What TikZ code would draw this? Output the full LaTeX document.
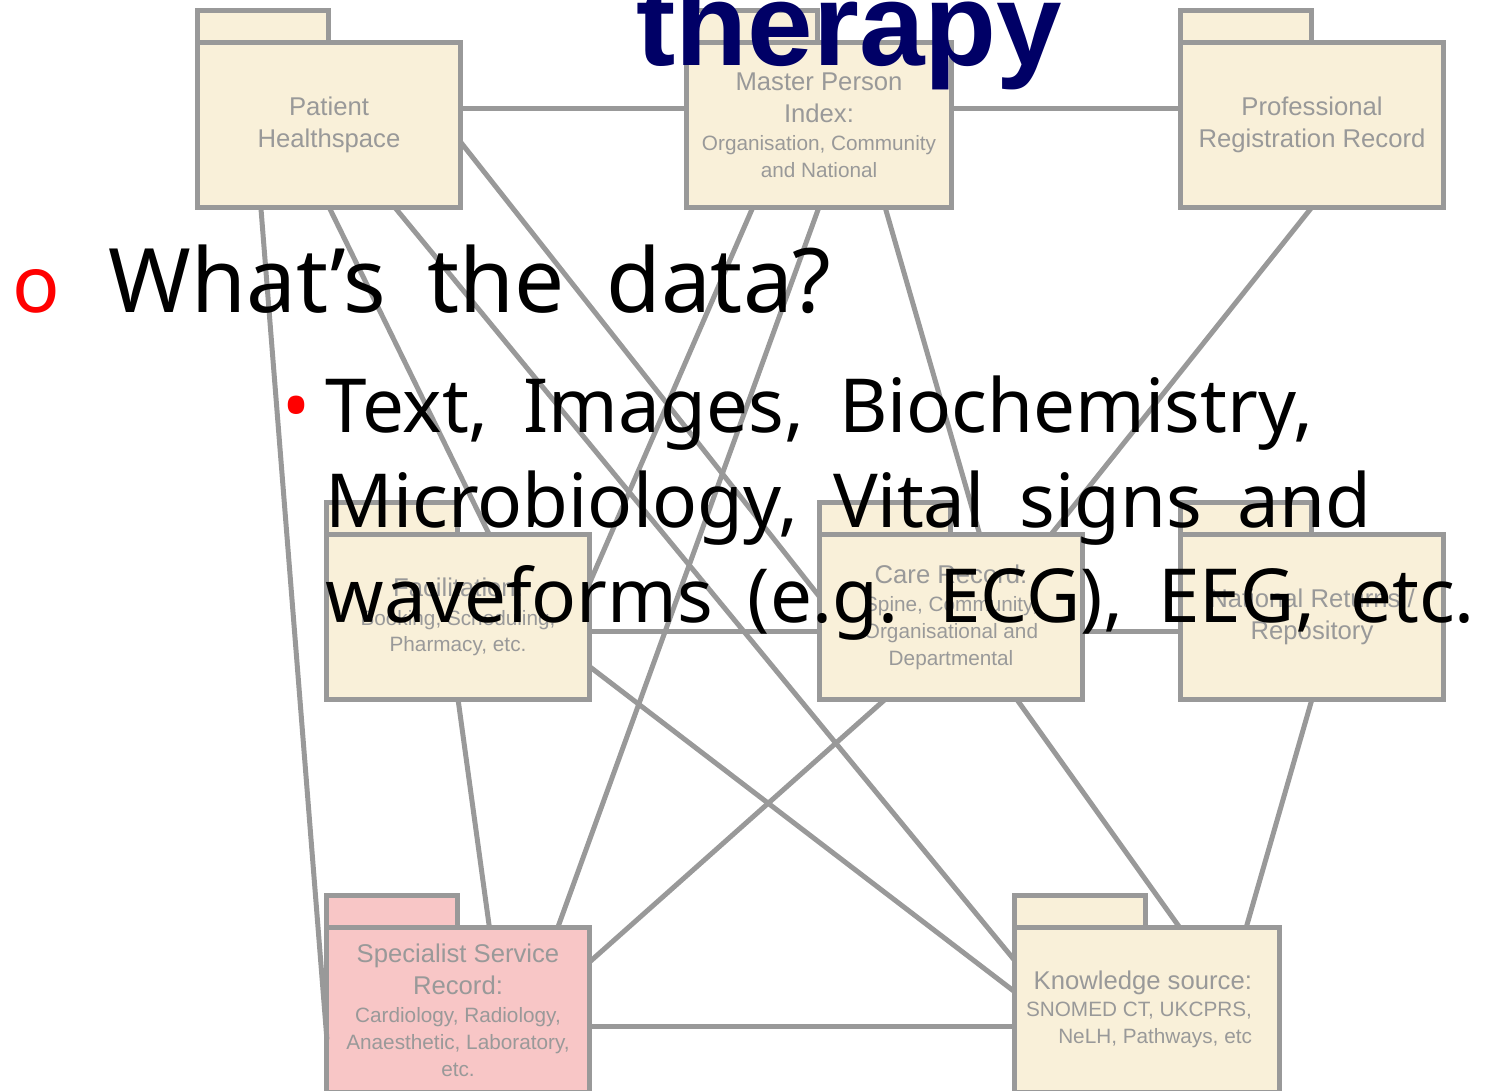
\documentclass[tikz,border=0pt]{standalone}
\usepackage{fontspec}
\setmainfont{Liberation Sans}
\newfontfamily\slidefont[WordSpace=1.8]{Noto Sans}
\usetikzlibrary{calc}
\definecolor{linegray}{HTML}{999999}
\definecolor{cream}{HTML}{F9F0D9}
\definecolor{rose}{HTML}{F8C6C6}
\definecolor{navy}{RGB}{0,0,102}
\newcommand\boxhead{\fontsize{7.3}{9.1}\selectfont}
\newcommand\boxsub{\fontsize{5.9}{7.4}\selectfont}
\begin{document}
\begin{tikzpicture}[x=0.01cm, y=-0.01cm,
  folder/.style={draw=linegray, line width=1.42pt, fill=cream, outer sep=0pt, inner sep=0pt,
    minimum width=2.62cm, minimum height=1.64cm, align=center, text=linegray, font=\boxhead},
  foldertab/.style={draw=linegray, line width=1.42pt, fill=cream, outer sep=0pt, inner sep=0pt,
    minimum width=1.3cm, minimum height=0.32cm, anchor=south west},
  link/.style={draw=linegray, line width=1.42pt},
  slide/.style={anchor=base west, inner sep=0pt, font=\slidefont\fontsize{21.2}{27}\selectfont}]
\useasboundingbox (0,0) rectangle (1497,1091);

% folders, top row
\node[folder] (ph) at (329,125) {\boxhead Patient\\\boxhead Healthspace};
\node[foldertab] (ph-tab) at (ph.north west) {};
\node[folder, minimum width=2.64cm] (mpi) at (819,125) {\boxhead Master Person\\\boxhead Index:\\[-1pt]\boxsub Organisation, Community\\[-1.5pt]\boxsub and National};
\node[foldertab] (mpi-tab) at (mpi.north west) {};
\node[folder] (pr) at (1312,125) {\boxhead Professional\\\boxhead Registration Record};
\node[foldertab] (pr-tab) at (pr.north west) {};

% folders, middle row
\node[folder] (fac) at (458,617) {\boxhead Facilitation:\\[-1pt]\boxsub Booking, Scheduling,\\[-1.5pt]\boxsub Pharmacy, etc.};
\node[foldertab] (fac-tab) at (fac.north west) {};
\node[folder] (care) at (951,617) {\boxhead Care Record:\\[-1pt]\boxsub Spine, Community,\\[-1.5pt]\boxsub Organisational and\\[-1.5pt]\boxsub Departmental};
\node[foldertab] (care-tab) at (care.north west) {};
\node[folder] (nr) at (1312,617) {\boxhead National Returns /\\\boxhead Repository};
\node[foldertab] (nr-tab) at (nr.north west) {};

% folders, bottom row
\node[folder, fill=rose] (spec) at (458,1010) {\boxhead Specialist Service\\\boxhead Record:\\[-1pt]\boxsub Cardiology, Radiology,\\[-1.5pt]\boxsub Anaesthetic, Laboratory,\\[-1.5pt]\boxsub etc.};
\node[foldertab, fill=rose] (spec-tab) at (spec.north west) {};
\node[folder, minimum width=2.64cm] (know) at (1147,1010) {\raisebox{-0.085cm}{\begin{tabular}{@{}r@{}}\boxhead Knowledge source:\\[-1.5pt]\boxsub SNOMED CT, UKCPRS,\\[-1.5pt]\boxsub NeLH, Pathways, etc\end{tabular}}\hspace*{0.16cm}};
\node[foldertab] (know-tab) at (know.north west) {};

% links
\draw[link] ($(ph.north east)!0.4!(ph.south east)$) -- ($(mpi.north west)!0.4!(mpi.south west)$);
\draw[link] ($(mpi.north east)!0.4!(mpi.south east)$) -- ($(pr.north west)!0.4!(pr.south west)$);
\draw[link] ($(ph.south west)!0.24!(ph.south east)$) -- ($(spec.north west)!0.68!(spec.south west)$);
\draw[link] (ph.south) -- ($(fac.north west)!0.62!(fac.north east)$);
\draw[link] ($(ph.south west)!0.75!(ph.south east)$) -- ($(know.north west)!0.2!(know.south west)$);
\draw[link] ($(ph.north east)!0.6!(ph.south east)$) -- ($(care.north west)!0.38!(care.south west)$);
\draw[link] ($(mpi.south west)!0.25!(mpi.south east)$) -- ($(fac.north east)!0.3!(fac.south east)$);
\draw[link] (mpi.south) -- ($(spec.north west)!0.88!(spec.north east)$);
\draw[link] ($(mpi.south west)!0.75!(mpi.south east)$) -- ($(care.north west)!0.61!(care.north east)$);
\draw[link] (pr.south) -- ($(care.north west)!0.88!(care.north east)$);
\draw[link] ($(fac.north east)!0.59!(fac.south east)$) -- ($(care.north west)!0.59!(care.south west)$);
\draw[link] ($(care.north east)!0.59!(care.south east)$) -- ($(nr.north west)!0.59!(nr.south west)$);
\draw[link] (fac.south) -- ($(spec.north west)!0.62!(spec.north east)$);
\draw[link] ($(fac.north east)!0.8!(fac.south east)$) -- ($(know.north west)!0.39!(know.south west)$);
\draw[link] ($(care.south west)!0.25!(care.south east)$) -- ($(spec.north east)!0.21!(spec.south east)$);
\draw[link] ($(care.south west)!0.75!(care.south east)$) -- ($(know.north west)!0.625!(know.north east)$);
\draw[link] (nr.south) -- ($(know.north west)!0.875!(know.north east)$);
\draw[link] ($(spec.north east)!0.6!(spec.south east)$) -- ($(know.north west)!0.6!(know.south west)$);

% slide text on top
\node[anchor=base west, inner sep=0pt, text=navy, font=\fontsize{33.5}{40}\selectfont\bfseries] (title) at (636,66) {therapy};
\node[slide, text=red, font=\slidefont\fontsize{22.4}{27}\selectfont] (mark) at (12,312) {o};
\node[slide, font=\slidefont\fontsize{25.3}{32}\selectfont] (question) at (108,312) {What’s the data?};
\node[slide, text=red] (dot) at (282,432) {•};
\node[slide] (line1) at (325,432) {Text, Images, Biochemistry,};
\node[slide] (line2) at (325,527) {Microbiology, Vital signs and};
\node[slide] (line3) at (325,622) {waveforms (e.g. ECG), EEG, etc.};
\end{tikzpicture}
\end{document}
